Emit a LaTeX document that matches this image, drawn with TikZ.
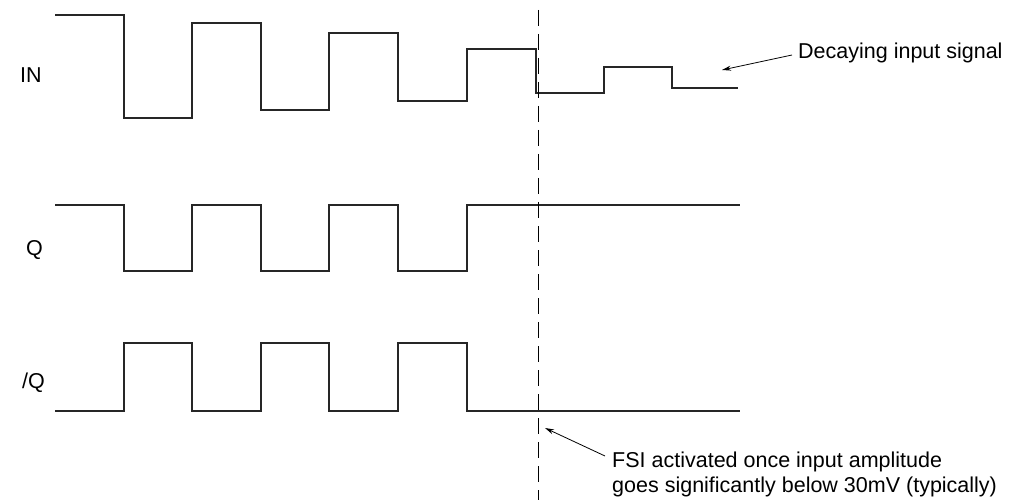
\documentclass[tikz,border=0pt]{standalone}
\usepackage{fontspec}
\setmainfont{Liberation Sans}
\usetikzlibrary{arrows.meta}
\begin{document}
\begin{tikzpicture}[x=1pt,y=-1pt,
  wave/.style={line width=1.6pt,black!85},
  lbl/.style={font=\fontsize{21.5}{25}\selectfont,inner sep=0pt},
  pointer/.style={-{Stealth[length=9pt,width=5pt]},line width=0.8pt}]
\useasboundingbox (0,0) rectangle (1010,500);
\draw[wave] (55,15)-|(124,118)-|(192,23)-|(261,110)-|(329,33)-|(398,101)-|(467,49)-|(536,93)-|(604,67)-|(672,88)--(738,88);
\draw[wave] (55,205)-|(124,271)-|(192,205)-|(261,271)-|(329,205)-|(398,271)-|(467,205)--(740,205);
\draw[wave] (55,411)-|(124,343)-|(192,411)-|(261,343)-|(329,411)-|(398,343)-|(467,411)--(740,411);
\coordinate (dtop) at (538,10); \coordinate (dbot) at (538,500);
\draw[dashed,dash pattern=on 16pt off 8pt,line width=0.8pt] (dtop)--(dbot);
\node[lbl,anchor=west] (in) at (20,75) {IN};
\node[lbl,anchor=west] (q) at (26,250) {Q};
\node[lbl,anchor=west] (nq) at (22,383) {/Q};
\node[lbl,anchor=west] (dec) at (798,53) {Decaying input signal};
\coordinate (deca) at (722,70);
\draw[pointer] (dec.west)++(-6,2) -- (deca);
\node[lbl,align=left,anchor=north west] (fsi) at (612,452) {FSI activated once input amplitude\\goes significantly below 30mV (typically)};
\coordinate (fsia) at (545,428);
\draw[pointer] (605,456) -- (fsia);
\end{tikzpicture}
\end{document}
